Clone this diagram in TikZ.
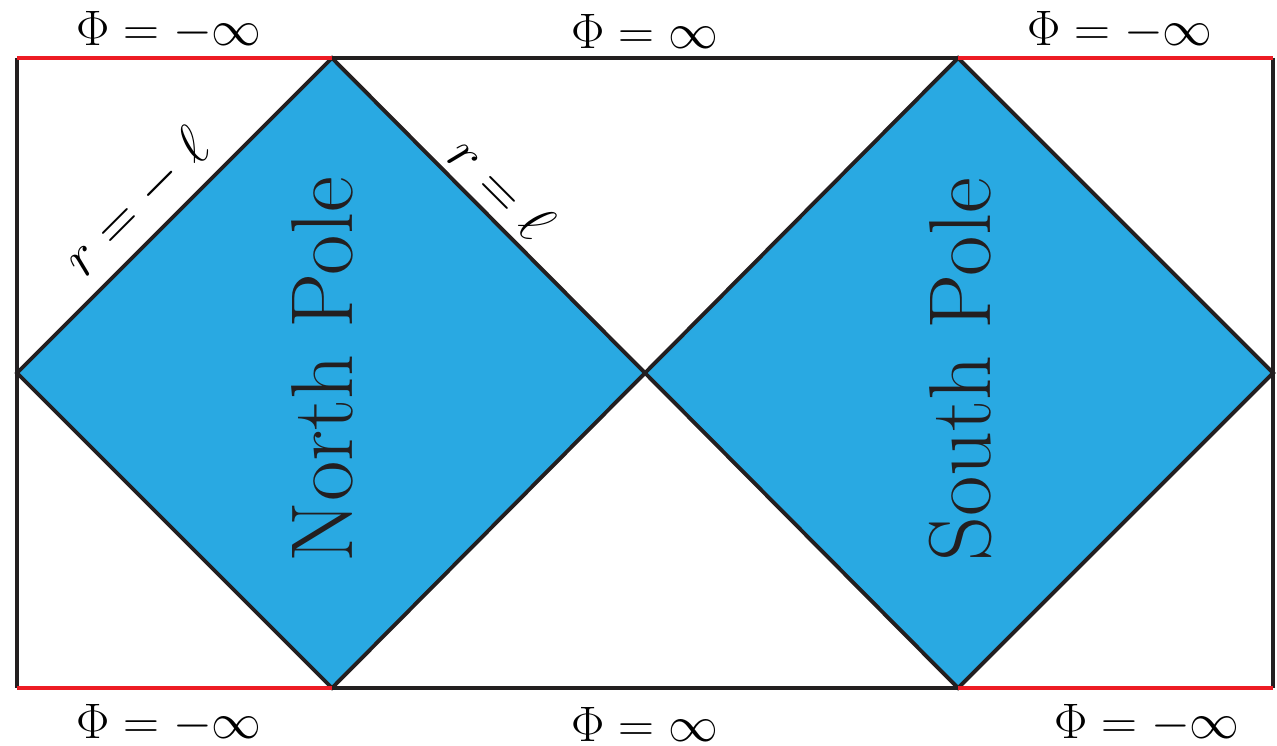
\documentclass[tikz,border=0pt]{standalone}
\usepackage{graphicx}
\usepackage{xcolor}
\definecolor{poleblue}{HTML}{29A9E2}
\definecolor{infred}{HTML}{ED1C24}
\definecolor{edge}{HTML}{231F20}
\newcommand{\philab}[1]{\scalebox{1.14}{$#1$}}
\newcommand{\rlab}[1]{\scalebox{1.3}{$#1$}}
\begin{document}
\begin{tikzpicture}[x=0.02cm,y=-0.02cm,
  edgeline/.style={draw=edge,line width=2.2pt,line join=miter},
  redline/.style={draw=infred,line width=2.3pt},
  philabel/.style={font=\fontsize{24.88}{30}\selectfont,inner sep=0pt},
  rlabel/.style={font=\fontsize{24.88}{30}\selectfont,inner sep=0pt},
  polelabel/.style={font=\fontsize{50}{58}\selectfont,inner sep=0pt,text=edge}]
\useasboundingbox (0,0) rectangle (1277,746);
% corners and vertices
\coordinate (TL) at (17,58);
\coordinate (TR) at (1273,58);
\coordinate (BL) at (17,688);
\coordinate (BR) at (1273,688);
\coordinate (NT) at (332,58);
\coordinate (NB) at (332,688);
\coordinate (NL) at (17,373);
\coordinate (C) at (645,373);
\coordinate (ST) at (958,58);
\coordinate (SB) at (958,688);
\coordinate (SR) at (1273,373);
% diamonds
\fill[poleblue] (NT) -- (C) -- (NB) -- (NL) -- cycle;
\fill[poleblue] (ST) -- (SR) -- (SB) -- (C) -- cycle;
% frame
\draw[edgeline] (NT) -- (ST);
\draw[edgeline] (NB) -- (SB);
\draw[edgeline] (TL) -- (BL);
\draw[edgeline] (TR) -- (BR);
\draw[edgeline] (NL) -- (NT) -- (SB) -- (SR) -- (ST) -- (NB) -- cycle;
% red boundaries
\draw[redline] (TL) -- (NT);
\draw[redline] (ST) -- (TR);
\draw[redline] (BL) -- (NB);
\draw[redline] (SB) -- (BR);
% labels
\node[philabel] (l1) at (169,31) {\philab{\Phi = -\infty}};
\node[philabel] (l2) at (645,31) {\philab{\Phi = \infty}};
\node[philabel] (l3) at (1120,31) {\philab{\Phi = -\infty}};
\node[philabel] (l4) at (169,724) {\philab{\Phi = -\infty}};
\node[philabel] (l5) at (645,724) {\philab{\Phi = \infty}};
\node[philabel] (l6) at (1147,724) {\philab{\Phi = -\infty}};
\node[rlabel,rotate=45] (rm) at (137,203) {\rlab{r = -\;\ell}};
\node[rlabel,rotate=-45] (rp) at (502,188) {\rlab{r = \ell}};
\node[polelabel,rotate=90] (np) at (322,370) {North Pole};
\node[polelabel,rotate=90] (sp) at (960,370) {South Pole};
\end{tikzpicture}
\end{document}
